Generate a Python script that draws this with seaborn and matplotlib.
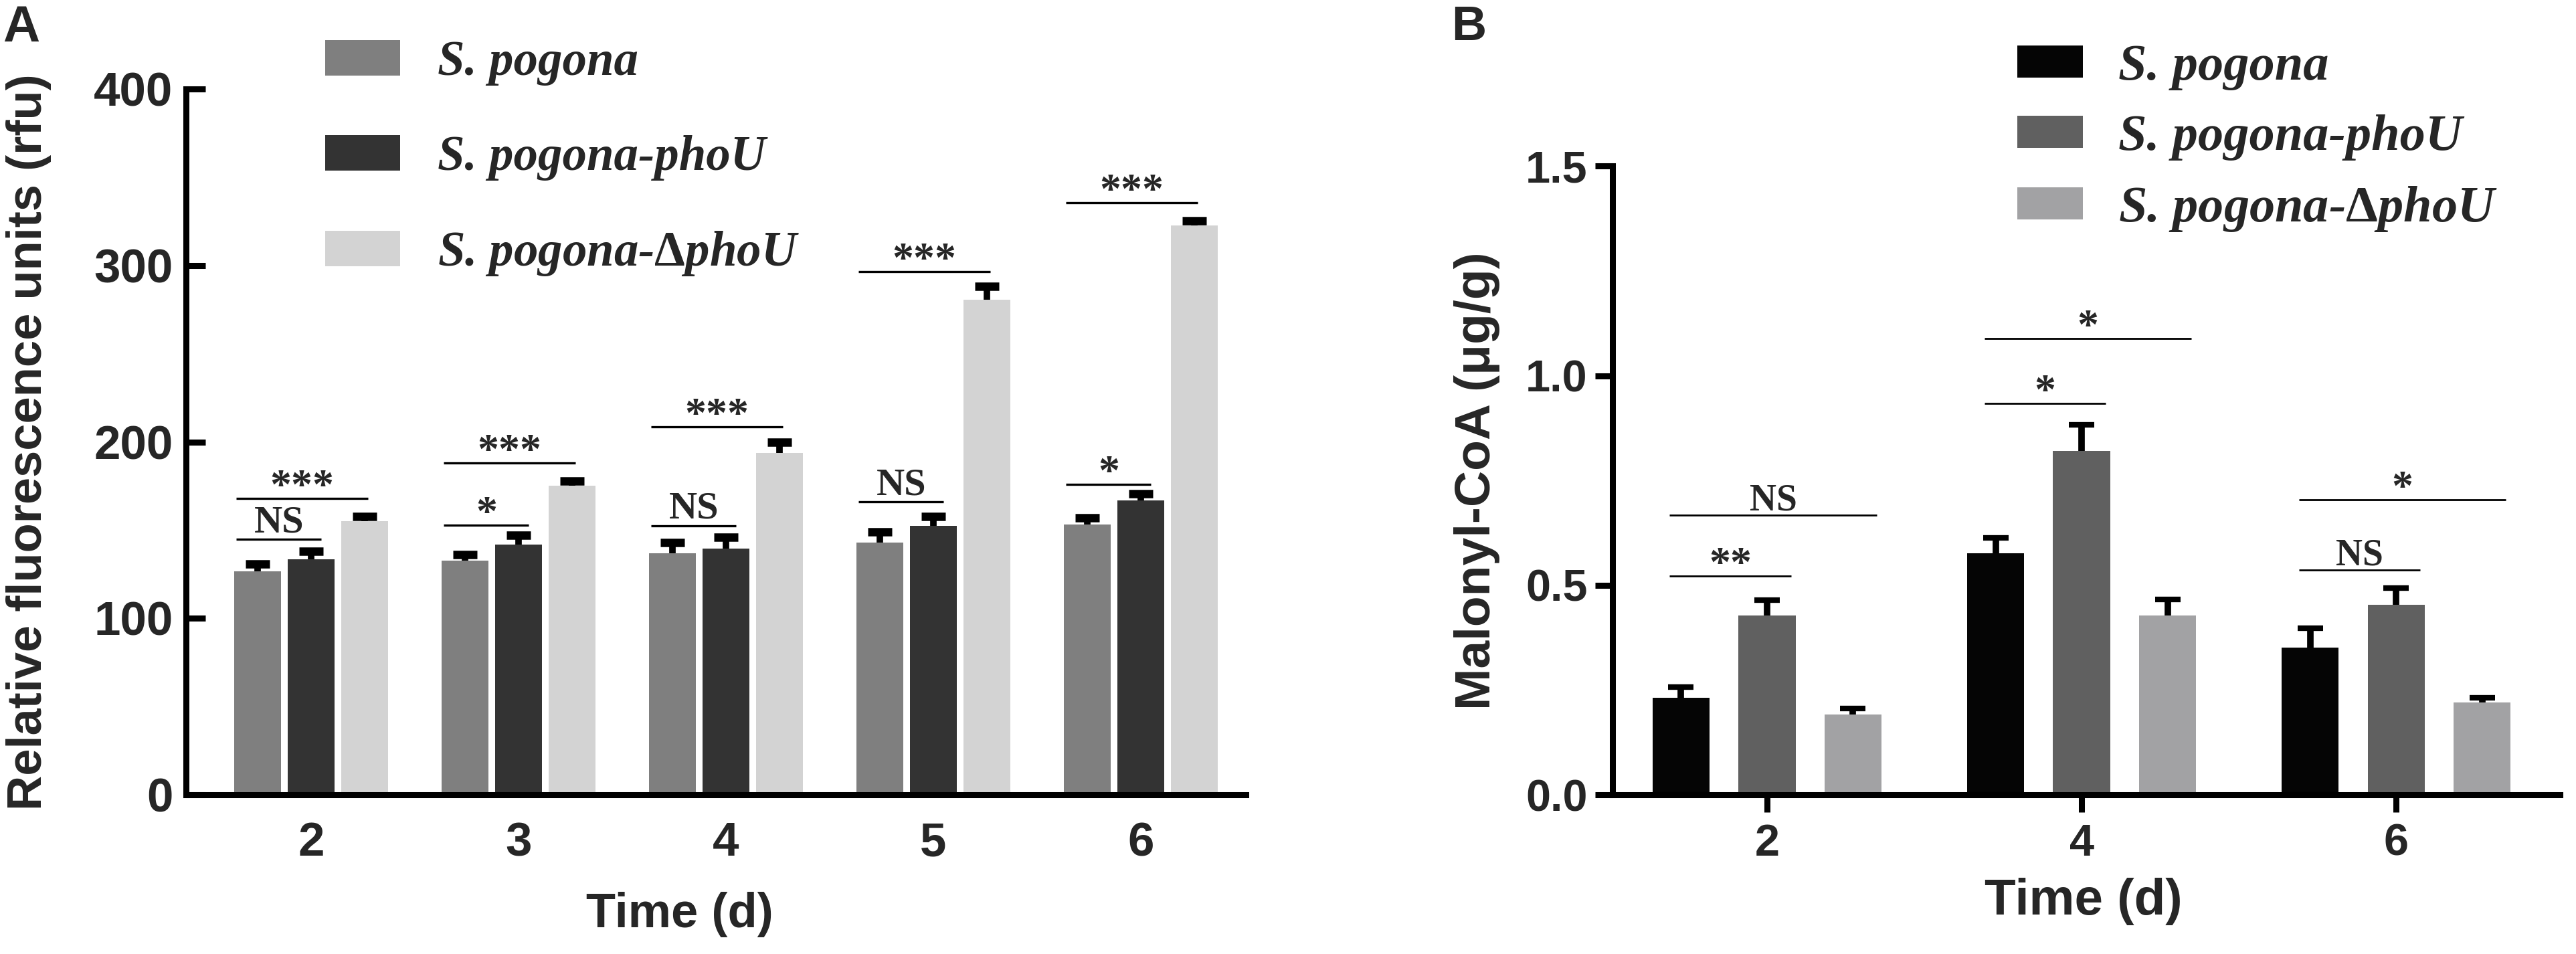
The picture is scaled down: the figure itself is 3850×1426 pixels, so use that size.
import seaborn as sns
import matplotlib.pyplot as plt
import pandas as pd
import numpy as np
from matplotlib.patches import Patch

strains = ['S. pogona', 'S. pogona-phoU', 'S. pogona-ΔphoU']
# legend labels: the delta stays upright as in the figure
legend_labels = ['S. pogona', 'S. pogona-phoU', r'S. pogona-$\mathbf{\Delta}$phoU']

# Panel A: relative fluorescence units (rfu)
days_a = ['2', '3', '4', '5', '6']
rfu_wt = [126.5, 132.6, 137.0, 142.8, 153.2]
rfu_phou = [133.5, 141.7, 139.4, 152.3, 166.7]
rfu_dphou = [155.0, 175.0, 193.6, 280.7, 322.7]
rfu_wt_err = [4.5, 3.4, 5.8, 6.1, 3.8]
rfu_phou_err = [4.5, 5.3, 6.4, 5.3, 3.9]
rfu_dphou_err = [2.6, 2.8, 6.1, 7.3, 2.7]
# (group, last bar of the bracket, height, label)
sig_a = [(0, 1, 144.7, 'NS'), (0, 2, 167.8, '***'),
         (1, 1, 152.7, '*'), (1, 2, 187.9, '***'),
         (2, 1, 152.6, 'NS'), (2, 2, 208.7, '***'),
         (3, 1, 166.0, 'NS'), (3, 2, 296.4, '***'),
         (4, 1, 176.0, '*'), (4, 2, 335.6, '***')]

# Panel B: malonyl-CoA (ug/g)
days_b = ['2', '4', '6']
mal_wt = [0.232, 0.576, 0.351]
mal_phou = [0.428, 0.820, 0.454]
mal_dphou = [0.192, 0.428, 0.221]
mal_wt_err = [0.025, 0.037, 0.047]
mal_phou_err = [0.037, 0.063, 0.040]
mal_dphou_err = [0.014, 0.038, 0.011]
sig_b = [(0, 1, 0.523, '**'), (0, 2, 0.668, 'NS'),
         (1, 1, 0.934, '*'), (1, 2, 1.089, '*'),
         (2, 1, 0.537, 'NS'), (2, 2, 0.704, '*')]

colors_a = ['#7f7f7f', '#333333', '#d3d3d3']
colors_b = ['#050505', '#606060', '#a2a2a4']

sns.set_style('ticks')
plt.rcParams['font.family'] = ['Liberation Sans', 'DejaVu Sans']
plt.rcParams['font.weight'] = 'bold'
plt.rcParams['mathtext.fontset'] = 'custom'
plt.rcParams['mathtext.rm'] = 'Liberation Serif'
plt.rcParams['mathtext.bf'] = 'Liberation Serif:bold'
serif = ['Liberation Serif', 'DejaVu Serif']


def bar_panel(ax, days, means, errs, colors, width, gap, cap, capthick):
    rows = []
    for s, vals in zip(strains, means):
        for d, v in zip(days, vals):
            rows.append({'day': d, 'strain': s, 'value': v})
    df = pd.DataFrame(rows)
    sns.barplot(data=df, x='day', y='value', hue='strain', order=days,
                hue_order=strains, palette=colors, width=width, gap=gap,
                errorbar=None, saturation=1, linewidth=0, legend=False, ax=ax)
    bars = [list(c.patches) for c in ax.containers]
    for grp, err in zip(bars, errs):
        xs = [p.get_x() + p.get_width() / 2 for p in grp]
        ys = [p.get_height() for p in grp]
        # drawn behind the bars so only the upper half shows
        ax.errorbar(xs, ys, yerr=err, fmt='none', ecolor='black',
                    elinewidth=7, capsize=cap, capthick=capthick, zorder=0.5)
    return bars


def brackets(ax, bars, sig, left_trim, right_trim, lw, fs_ns, fs_star, off_ns, off_star):
    for g, j, y, lab in sig:
        b0 = bars[0][g]
        bj = bars[j][g]
        w = b0.get_width()
        x0 = b0.get_x() + left_trim * w
        x1 = bj.get_x() + w - right_trim[j] * w
        ax.plot([x0, x1], [y, y], color='black', lw=lw, solid_capstyle='butt')
        star = lab.startswith('*')
        ax.annotate(lab, xy=((x0 + x1) / 2, y),
                    xytext=(0, off_star if star else off_ns),
                    textcoords='offset points', ha='center', va='baseline',
                    fontsize=fs_star if star else fs_ns, family=serif,
                    fontweight='bold')


def style_axes(ax):
    sns.despine(ax=ax)
    for side in ['left', 'bottom']:
        ax.spines[side].set_linewidth(6.5)
        ax.spines[side].set_color('black')


fig = plt.figure(figsize=(38.5, 14.26), dpi=100)

# ---- panel A
ax1 = fig.add_axes([0.0722, 0.1669, 0.4114, 0.7398])
bars_a = bar_panel(ax1, days_a, [rfu_wt, rfu_phou, rfu_dphou],
                   [rfu_wt_err, rfu_phou_err, rfu_dphou_err],
                   colors_a, 0.774, 0.124, 13, 9)
brackets(ax1, bars_a, sig_a, 0.05, {1: 0.28, 2: 0.43}, 2.4, 42, 46, 8, 0)
ax1.set_xlim(-0.603, 4.506)
ax1.set_ylim(0, 400)
ax1.set_yticks([0, 100, 200, 300, 400])
style_axes(ax1)
ax1.tick_params(axis='y', direction='in', length=21, width=6.5, pad=14,
                labelsize=51, color='black')
ax1.tick_params(axis='x', length=0, pad=29, labelsize=51)
ax1.set_xlabel('Time (d)', fontsize=52, fontweight='bold')
ax1.set_ylabel('Relative fluorescence units (rfu)', fontsize=52, fontweight='bold')
ax1.xaxis.set_label_coords(0.466, -0.137)
ax1.yaxis.set_label_coords(-0.127, 0.5)
ax1.legend(handles=[Patch(facecolor=c, edgecolor='none') for c in colors_a],
           labels=legend_labels, loc='upper left', frameon=False,
           bbox_to_anchor=(486 / 3850, 1 - 60 / 1426), bbox_transform=fig.transFigure,
           borderpad=0, borderaxespad=0, handlelength=1.53, handleheight=0.74,
           handletextpad=0.78, labelspacing=1.01,
           prop={'family': serif, 'weight': 'bold', 'style': 'italic', 'size': 52.5})

# ---- panel B
ax2 = fig.add_axes([0.626, 0.1666, 0.3678, 0.6594])
bars_b = bar_panel(ax2, days_b, [mal_wt, mal_phou, mal_dphou],
                   [mal_wt_err, mal_phou_err, mal_dphou_err],
                   colors_b, 0.82, 0.337, 14, 6)
brackets(ax2, bars_b, sig_b, 0.3, {1: 0.08, 2: 0.08}, 2.0, 40, 46, 5, 0)
ax2.set_xlim(-0.491, 2.521)
ax2.set_ylim(0, 1.5)
ax2.set_yticks([0.0, 0.5, 1.0, 1.5])
ax2.set_yticklabels(['0.0', '0.5', '1.0', '1.5'])
style_axes(ax2)
ax2.tick_params(axis='both', direction='out', length=19, width=6.5,
                labelsize=48, color='black')
ax2.tick_params(axis='y', pad=8)
ax2.tick_params(axis='x', pad=11.5)
ax2.set_xlabel('Time (d)', fontsize=55, fontweight='bold')
ax2.set_ylabel('Malonyl-CoA (μg/g)', fontsize=54, fontweight='bold')
ax2.xaxis.set_label_coords(0.497, -0.131)
ax2.yaxis.set_label_coords(-0.119, 0.5)
ax2.legend(handles=[Patch(facecolor=c, edgecolor='none') for c in colors_b],
           labels=legend_labels, loc='upper left', frameon=False,
           bbox_to_anchor=(3015 / 3850, 1 - 66 / 1426), bbox_transform=fig.transFigure,
           borderpad=0, borderaxespad=0, handlelength=1.28, handleheight=0.6,
           handletextpad=0.7, labelspacing=0.47,
           prop={'family': serif, 'weight': 'bold', 'style': 'italic', 'size': 55})

fig.text(0.001, 1 - 62 / 1426, 'A', fontsize=55, fontweight='bold', va='baseline')
fig.text(2169 / 3850, 1 - 60 / 1426, 'B', fontsize=52, fontweight='bold', va='baseline')

fig.savefig('out.png', dpi=100)
